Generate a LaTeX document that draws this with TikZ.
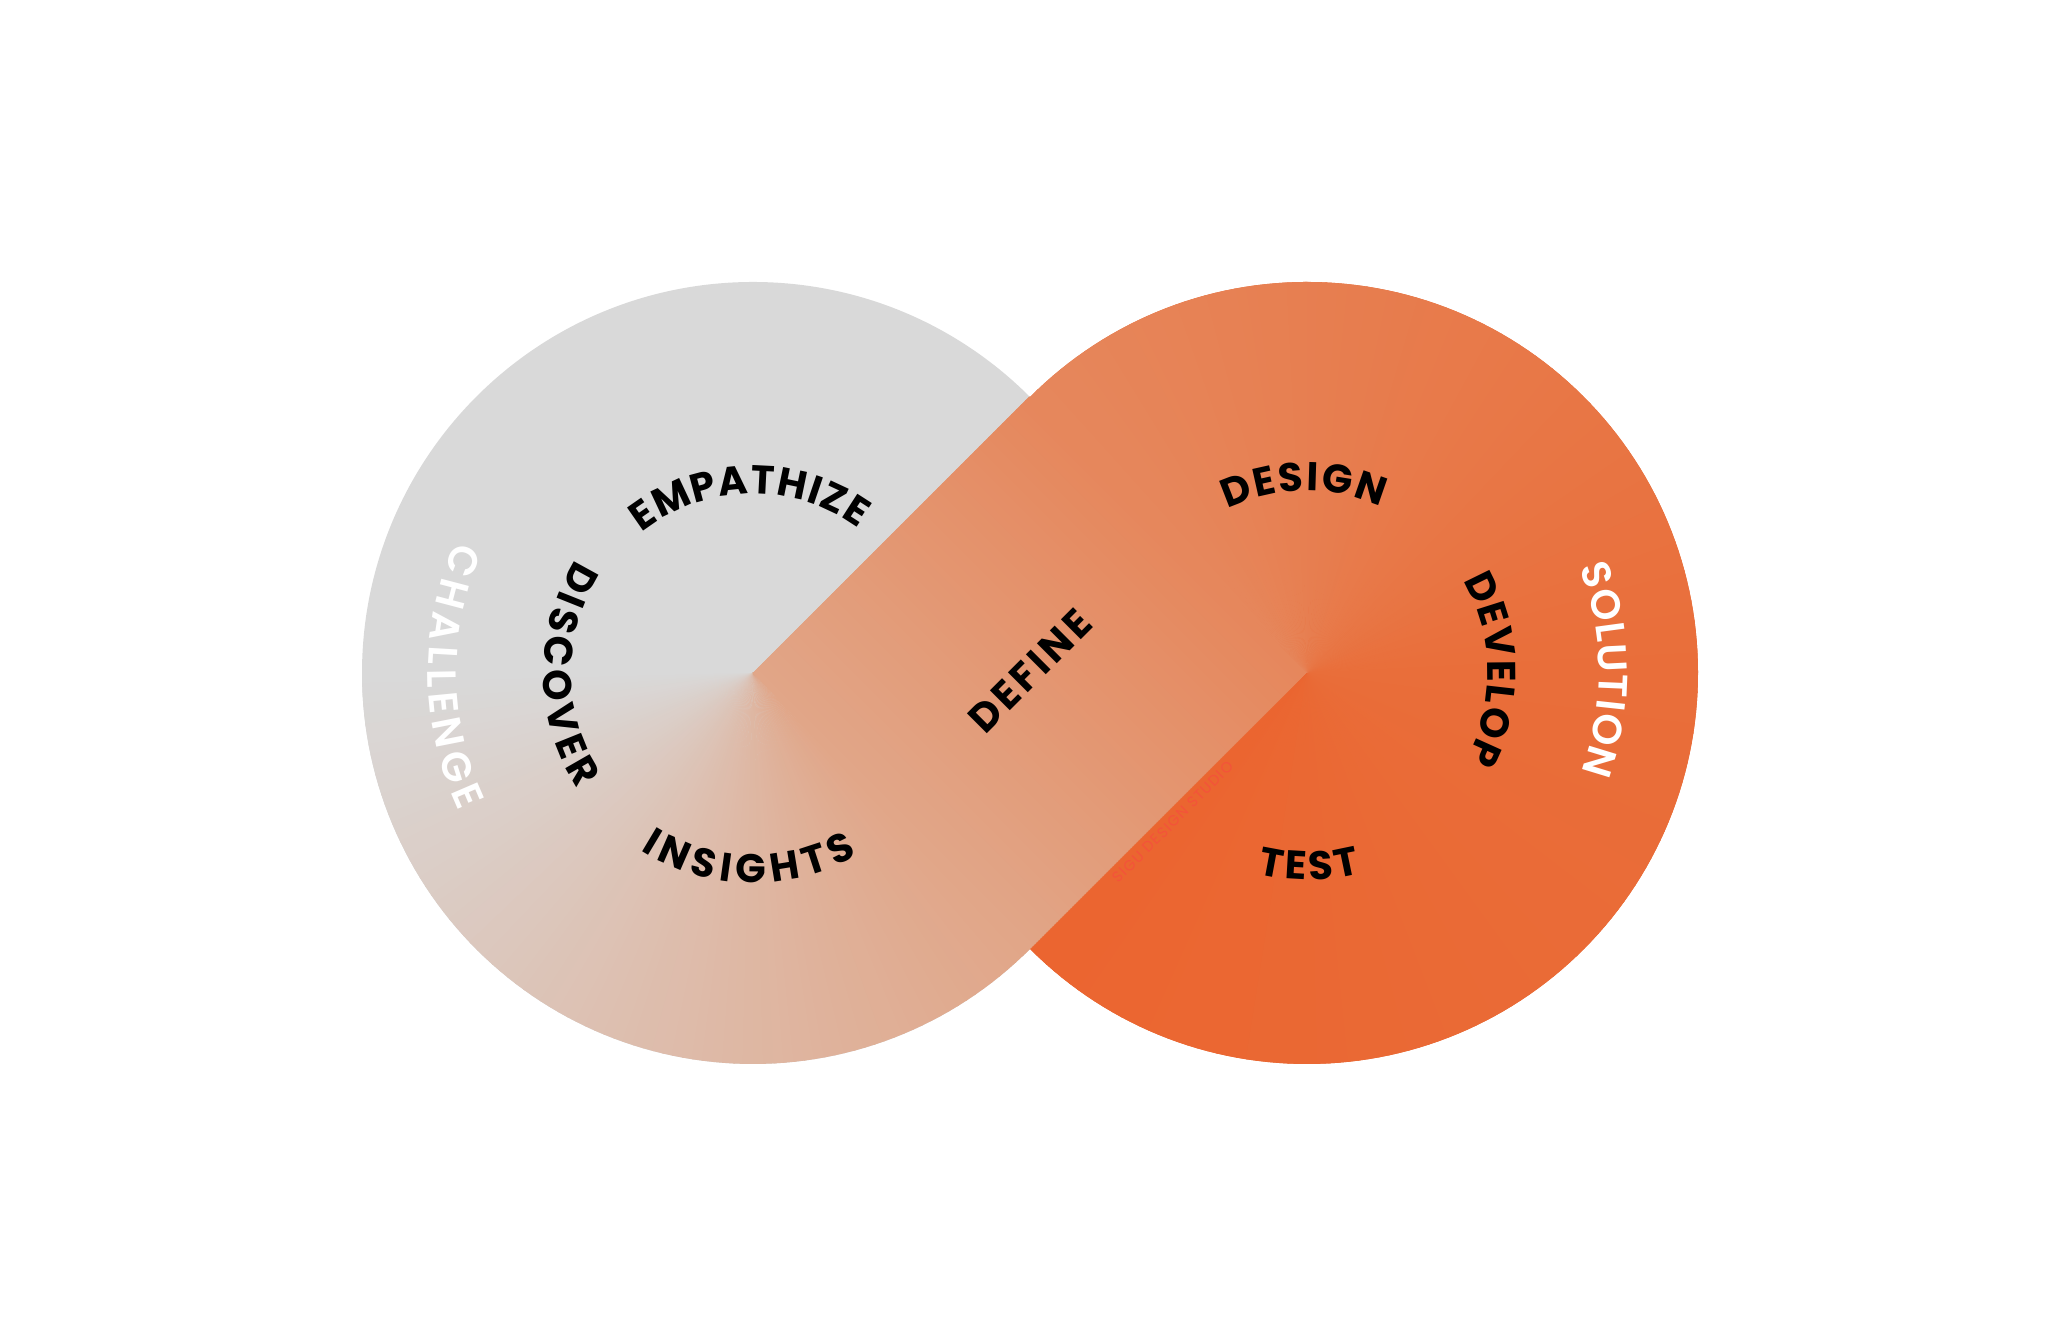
\documentclass[tikz,border=0pt]{standalone}
\usepackage{fontspec}
\newfontfamily\labfont{Poppins}
\newfontfamily\ringfont{Poppins SemiBold}
\usetikzlibrary{decorations.text}

\definecolor{grayarc}{HTML}{D9D9D9}
\definecolor{peacharc}{HTML}{E1A688}
\definecolor{orgA}{HTML}{EB6530}
\definecolor{orgB}{HTML}{E96E3A}
\definecolor{orgC}{HTML}{E6875C}
\definecolor{wmred}{HTML}{F4533A}

\tikzset{
	inword/.style={decorate, decoration={text along path, text align={fit to path}, raise=-0.14cm, text color=black,
		text={|\labfont\bfseries\fontsize{11.4}{12}\selectfont|#1}}},
	outword/.style={decorate, decoration={text along path, text align={fit to path}, raise=-0.14cm, text color=white,
		text={|\ringfont\fontsize{11.6}{12}\selectfont|#1}}}
}

\begin{document}
\begin{tikzpicture}
	\def\R{3.91}
	\useasboundingbox (0,0) rectangle (20.60,13.43);
	\coordinate (lc) at (7.53,6.70);
	\coordinate (rc) at (13.07,6.70);

	% left disc
	\fill[grayarc] (lc) circle (\R);
	\fill[peacharc] (lc) -- ++(314:\R) arc (314:405:\R) -- cycle;
	\foreach \i in {0,...,89}{
		\pgfmathsetmacro\sA{180+1.5*\i}
		\pgfmathsetmacro\sB{\sA+1.8}
		\pgfmathsetmacro\pc{100*\i/89}
		\fill[peacharc!\pc!grayarc] (lc) -- ++(\sA:\R) arc (\sA:\sB:\R) -- cycle;
	}

	% right disc
	\fill[orgB] (rc) circle (\R);
	\fill[orgC] (rc) -- ++(495:\R) arc (495:585:\R) -- cycle;
	\foreach \i in {0,...,89}{
		\pgfmathsetmacro\sA{225+1.5*\i}
		\pgfmathsetmacro\sB{\sA+1.8}
		\pgfmathsetmacro\pc{100*\i/89}
		\fill[orgB!\pc!orgA] (rc) -- ++(\sA:\R) arc (\sA:\sB:\R) -- cycle;
	}
	\foreach \i in {0,...,89}{
		\pgfmathsetmacro\sA{360+1.5*\i}
		\pgfmathsetmacro\sB{\sA+1.8}
		\pgfmathsetmacro\pc{100*\i/89}
		\fill[orgC!\pc!orgB] (rc) -- ++(\sA:\R) arc (\sA:\sB:\R) -- cycle;
	}

	% band
	\begin{scope}[shift={(lc)}, rotate=45]
		\clip (0,0) rectangle (\R,-\R);
		\foreach \i in {0,...,59}{
			\pgfmathsetmacro\uA{\R*\i/60}
			\pgfmathsetmacro\uB{\R*(\i+1)/60+0.02}
			\pgfmathsetmacro\pc{100*\i/59}
			\fill[orgC!\pc!peacharc] (\uA,0) rectangle (\uB,-\R);
		}
	\end{scope}

	\path[shift={(lc)}, inword=EMPATHIZE] (128:1.93) arc (128:54:1.93);
	\path[shift={(lc)}, inword=DISCOVER] (147:1.96) arc (147:213.7:1.96);
	\path[shift={(lc)}, inword=INSIGHTS] (237.4:1.96) arc (237.4:300:1.96);
	\path[shift={(lc)}, outword=CHALLENGE] (156:3.11) arc (156:205.3:3.11);

	\path[shift={(rc)}, inword=DESIGN] (115.5:1.96) arc (115.5:66.4:1.96);
	\path[shift={(rc)}, inword=DEVELOP] (30.4:1.95) arc (30.4:-28:1.95);
	\path[shift={(rc)}, inword=TEST] (255.9:1.93) arc (255.9:285.3:1.93);
	\path[shift={(rc)}, outword=SOLUTION] (21:3.06) arc (21:-19.8:3.06);

	\node[rotate=45, inner sep=0pt, font=\labfont\bfseries\fontsize{11.4}{12}\selectfont\addfontfeature{LetterSpace=9}] (define) at (10.30,6.72) {DEFINE};
	\node[rotate=45, inner sep=0pt, text=wmred, font=\labfont\fontsize{4.2}{5}\selectfont\addfontfeature{LetterSpace=8}] (sigu) at (11.73,5.21) {SIGU DESIGN STUDIO};
\end{tikzpicture}
\end{document}
